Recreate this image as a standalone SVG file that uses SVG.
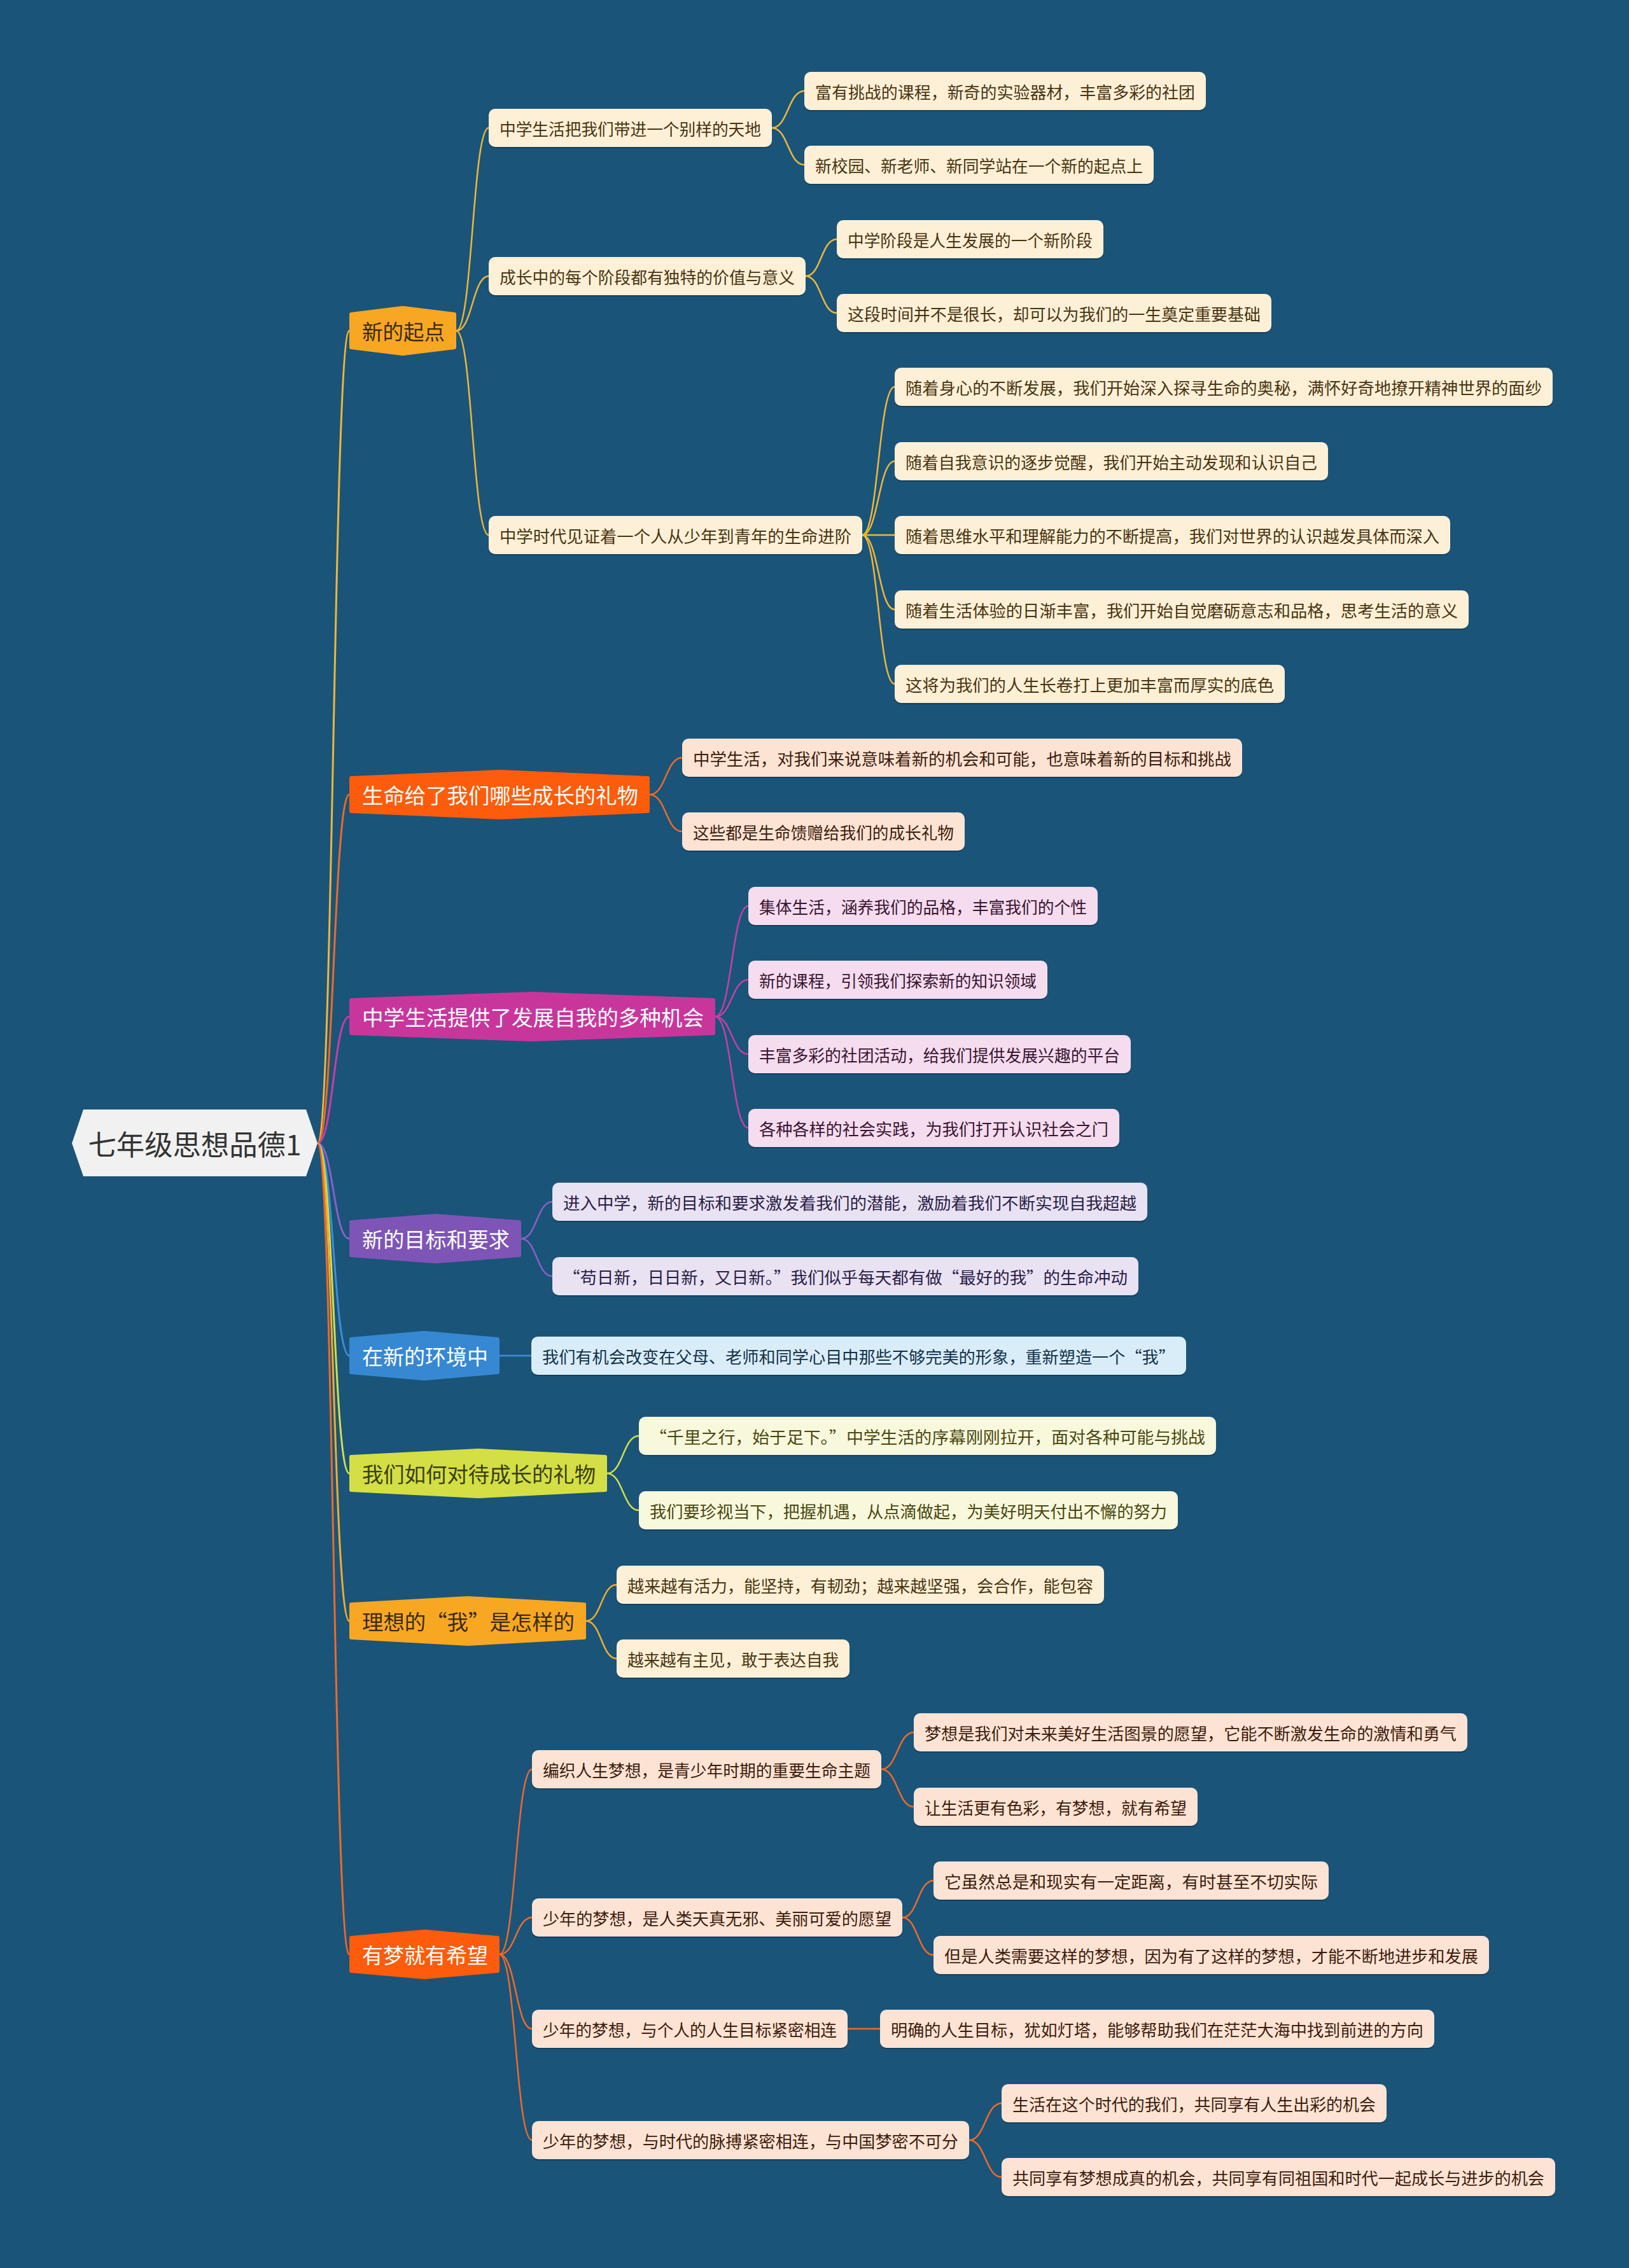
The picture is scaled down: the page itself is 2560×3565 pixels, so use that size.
<svg xmlns="http://www.w3.org/2000/svg" width="2560" height="3565" viewBox="0 0 2560 3565">
<style>
.t{font-family:"Noto Sans CJK SC","Noto Sans",sans-serif;text-anchor:middle;dominant-baseline:central}
.t0{font-size:44px;fill:#333333}
.t1{font-size:33px}
.t2{font-size:26px}
.c{fill:none;stroke-width:2.5}
.c0{fill:none;stroke-width:3}
.h{stroke-width:6;stroke-linejoin:round}
.sh{fill:#0c2f47;opacity:0.55}
.wa{fill:#ffffff}
.ca{stroke:#f0b63a}.cb{stroke:#ee6a28}.cc{stroke:#c540a3}.cd{stroke:#8a60c6}.ce{stroke:#3b8fd8}.cf{stroke:#cfdf4c}.cg{stroke:#f2ad2c}.ch{stroke:#ee6a28}
.ha{fill:#f8a722;stroke:#f8a722}.hb{fill:#fc5c0b;stroke:#fc5c0b}.hc{fill:#c8369c;stroke:#c8369c}.hd{fill:#7e55b6;stroke:#7e55b6}.he{fill:#3788d2;stroke:#3788d2}.hf{fill:#d3df45;stroke:#d3df45}.hg{fill:#f8a722;stroke:#f8a722}.hh{fill:#fc5c0b;stroke:#fc5c0b}
.na{fill:#fdf0d6}.nb{fill:#fde3d4}.nc{fill:#f5dcef}.nd{fill:#e8e2f3}.ne{fill:#d9edf9}.nf{fill:#f8f8dc}.ng{fill:#fdf0d6}.nh{fill:#fde3d4}
.xa{fill:#4a3412}.xb{fill:#3d1c0c}.xc{fill:#3a1430}.xd{fill:#2b1d45}.xe{fill:#13314a}.xf{fill:#4a4812}.xg{fill:#4a3412}.xh{fill:#3d1c0c}
.xd1{fill:#3a2a12}.xf1{fill:#3b3e0c}
</style>
<rect width="2560" height="3565" fill="#1a5479"/>

<g id="connectors">
<path class="c0 ca" d="M499,1797 C524,1797 524,520 549,520"/>
<path class="c0 cb" d="M499,1797 C524,1797 524,1249 549,1249"/>
<path class="c0 cc" d="M499,1797 C524,1797 524,1598 549,1598"/>
<path class="c0 cd" d="M499,1797 C524,1797 524,1947 549,1947"/>
<path class="c0 ce" d="M499,1797 C524,1797 524,2131 549,2131"/>
<path class="c0 cf" d="M499,1797 C524,1797 524,2316 549,2316"/>
<path class="c0 cg" d="M499,1797 C524,1797 524,2548 549,2548"/>
<path class="c0 ch" d="M499,1797 C524,1797 524,3072 549,3072"/>

<path class="c ca" d="M717,520 C742.5,520 742.5,201 768,201"/>
<path class="c ca" d="M717,520 C742.5,520 742.5,434 768,434"/>
<path class="c ca" d="M717,520 C742.5,520 742.5,841 768,841"/>
<path class="c ca" d="M1213,201 C1238.5,201 1238.5,143 1264,143"/>
<path class="c ca" d="M1213,201 C1238.5,201 1238.5,259 1264,259"/>
<path class="c ca" d="M1266,434 C1290.5,434 1290.5,376 1315,376"/>
<path class="c ca" d="M1266,434 C1290.5,434 1290.5,492 1315,492"/>
<path class="c ca" d="M1355,841 C1380.5,841 1380.5,608 1406,608"/>
<path class="c ca" d="M1355,841 C1380.5,841 1380.5,725 1406,725"/>
<path class="c ca" d="M1355,841 L1406,841"/>
<path class="c ca" d="M1355,841 C1380.5,841 1380.5,958 1406,958"/>
<path class="c ca" d="M1355,841 C1380.5,841 1380.5,1075 1406,1075"/>

<path class="c cb" d="M1021,1249 C1046.5,1249 1046.5,1191 1072,1191"/>
<path class="c cb" d="M1021,1249 C1046.5,1249 1046.5,1307 1072,1307"/>

<path class="c cc" d="M1124,1598 C1150,1598 1150,1424 1176,1424"/>
<path class="c cc" d="M1124,1598 C1150,1598 1150,1540 1176,1540"/>
<path class="c cc" d="M1124,1598 C1150,1598 1150,1657 1176,1657"/>
<path class="c cc" d="M1124,1598 C1150,1598 1150,1773 1176,1773"/>

<path class="c cd" d="M819,1947 C843.5,1947 843.5,1889 868,1889"/>
<path class="c cd" d="M819,1947 C843.5,1947 843.5,2006 868,2006"/>

<path class="c ce" d="M785,2131 L835,2131"/>

<path class="c cf" d="M954,2316 C979,2316 979,2257 1004,2257"/>
<path class="c cf" d="M954,2316 C979,2316 979,2374 1004,2374"/>

<path class="c cg" d="M921,2548 C945,2548 945,2491 969,2491"/>
<path class="c cg" d="M921,2548 C945,2548 945,2607 969,2607"/>

<path class="c ch" d="M785,3072 C810.5,3072 810.5,2781 836,2781"/>
<path class="c ch" d="M785,3072 C810.5,3072 810.5,3014 836,3014"/>
<path class="c ch" d="M785,3072 C810.5,3072 810.5,3189 836,3189"/>
<path class="c ch" d="M785,3072 C810.5,3072 810.5,3364 836,3364"/>
<path class="c ch" d="M1385,2781 C1410.5,2781 1410.5,2723 1436,2723"/>
<path class="c ch" d="M1385,2781 C1410.5,2781 1410.5,2840 1436,2840"/>
<path class="c ch" d="M1418,3014 C1442.5,3014 1442.5,2956 1467,2956"/>
<path class="c ch" d="M1418,3014 C1442.5,3014 1442.5,3073 1467,3073"/>
<path class="c ch" d="M1332,3189 L1383,3189"/>
<path class="c ch" d="M1523,3364 C1548.5,3364 1548.5,3306 1574,3306"/>
<path class="c ch" d="M1523,3364 C1548.5,3364 1548.5,3422 1574,3422"/>
</g>

<g id="root">
<polygon points="113,1797 131,1744 481,1744 499,1797 481,1849 131,1849" fill="#f1f1f1"/>
<text class="t t0" x="306" y="1797" textLength="335" lengthAdjust="spacingAndGlyphs">七年级思想品德1</text>
</g>

<g id="n-a">
<polygon class="h ha" points="552,494 633,484 714,494 714,546 633,556 552,546"/>
<text class="t t1 xd1" x="634" y="520" textLength="130" lengthAdjust="spacingAndGlyphs">新的起点</text>
</g>
<g id="n-b">
<polygon class="h hb" points="552,1223 785,1213 1018,1223 1018,1275 785,1285 552,1275"/>
<text class="t t1 wa" x="786" y="1249" textLength="434" lengthAdjust="spacingAndGlyphs">生命给了我们哪些成长的礼物</text>
</g>
<g id="n-c">
<polygon class="h hc" points="552,1572 836.5,1562 1121,1572 1121,1624 836.5,1634 552,1624"/>
<text class="t t1 wa" x="837.5" y="1598" textLength="537" lengthAdjust="spacingAndGlyphs">中学生活提供了发展自我的多种机会</text>
</g>
<g id="n-d">
<polygon class="h hd" points="552,1921 684,1911 816,1921 816,1973 684,1983 552,1973"/>
<text class="t t1 wa" x="685" y="1947" textLength="232" lengthAdjust="spacingAndGlyphs">新的目标和要求</text>
</g>
<g id="n-e">
<polygon class="h he" points="552,2105 667,2095 782,2105 782,2157 667,2167 552,2157"/>
<text class="t t1 wa" x="668" y="2131" textLength="198" lengthAdjust="spacingAndGlyphs">在新的环境中</text>
</g>
<g id="n-f">
<polygon class="h hf" points="552,2290 751.5,2280 951,2290 951,2342 751.5,2352 552,2342"/>
<text class="t t1 xf1" x="752.5" y="2316" textLength="367" lengthAdjust="spacingAndGlyphs">我们如何对待成长的礼物</text>
</g>
<g id="n-g">
<polygon class="h hg" points="552,2522 735,2512 918,2522 918,2574 735,2584 552,2574"/>
<text class="t t1 xd1" x="736" y="2548" textLength="334" lengthAdjust="spacingAndGlyphs">理想的“我”是怎样的</text>
</g>
<g id="n-h">
<polygon class="h hh" points="552,3046 667,3036 782,3046 782,3098 667,3108 552,3098"/>
<text class="t t1 wa" x="668" y="3072" textLength="198" lengthAdjust="spacingAndGlyphs">有梦就有希望</text>
</g>

<g id="n-a1"><rect class="sh" x="768" y="173" width="445" height="60" rx="10"/><rect class="na" x="768" y="171" width="445" height="60" rx="10"/><text class="t t2 xa" x="990.5" y="201" textLength="411" lengthAdjust="spacingAndGlyphs">中学生活把我们带进一个别样的天地</text></g>
<g id="n-a1a"><rect class="sh" x="1264" y="115" width="631" height="60" rx="10"/><rect class="na" x="1264" y="113" width="631" height="60" rx="10"/><text class="t t2 xa" x="1579.5" y="143" textLength="597" lengthAdjust="spacingAndGlyphs">富有挑战的课程，新奇的实验器材，丰富多彩的社团</text></g>
<g id="n-a1b"><rect class="sh" x="1264" y="231" width="549" height="60" rx="10"/><rect class="na" x="1264" y="229" width="549" height="60" rx="10"/><text class="t t2 xa" x="1538.5" y="259" textLength="515" lengthAdjust="spacingAndGlyphs">新校园、新老师、新同学站在一个新的起点上</text></g>
<g id="n-a2"><rect class="sh" x="768" y="406" width="498" height="60" rx="10"/><rect class="na" x="768" y="404" width="498" height="60" rx="10"/><text class="t t2 xa" x="1017" y="434" textLength="464" lengthAdjust="spacingAndGlyphs">成长中的每个阶段都有独特的价值与意义</text></g>
<g id="n-a2a"><rect class="sh" x="1315" y="348" width="419" height="60" rx="10"/><rect class="na" x="1315" y="346" width="419" height="60" rx="10"/><text class="t t2 xa" x="1524.5" y="376" textLength="385" lengthAdjust="spacingAndGlyphs">中学阶段是人生发展的一个新阶段</text></g>
<g id="n-a2b"><rect class="sh" x="1315" y="464" width="683" height="60" rx="10"/><rect class="na" x="1315" y="462" width="683" height="60" rx="10"/><text class="t t2 xa" x="1656.5" y="492" textLength="649" lengthAdjust="spacingAndGlyphs">这段时间并不是很长，却可以为我们的一生奠定重要基础</text></g>
<g id="n-a3"><rect class="sh" x="768" y="813" width="587" height="60" rx="10"/><rect class="na" x="768" y="811" width="587" height="60" rx="10"/><text class="t t2 xa" x="1061.5" y="841" textLength="553" lengthAdjust="spacingAndGlyphs">中学时代见证着一个人从少年到青年的生命进阶</text></g>
<g id="n-a3a"><rect class="sh" x="1406" y="580" width="1034" height="60" rx="10"/><rect class="na" x="1406" y="578" width="1034" height="60" rx="10"/><text class="t t2 xa" x="1923" y="608" textLength="1000" lengthAdjust="spacingAndGlyphs">随着身心的不断发展，我们开始深入探寻生命的奥秘，满怀好奇地撩开精神世界的面纱</text></g>
<g id="n-a3b"><rect class="sh" x="1406" y="697" width="681" height="60" rx="10"/><rect class="na" x="1406" y="695" width="681" height="60" rx="10"/><text class="t t2 xa" x="1746.5" y="725" textLength="647" lengthAdjust="spacingAndGlyphs">随着自我意识的逐步觉醒，我们开始主动发现和认识自己</text></g>
<g id="n-a3c"><rect class="sh" x="1406" y="813" width="873" height="60" rx="10"/><rect class="na" x="1406" y="811" width="873" height="60" rx="10"/><text class="t t2 xa" x="1842.5" y="841" textLength="839" lengthAdjust="spacingAndGlyphs">随着思维水平和理解能力的不断提高，我们对世界的认识越发具体而深入</text></g>
<g id="n-a3d"><rect class="sh" x="1406" y="930" width="902" height="60" rx="10"/><rect class="na" x="1406" y="928" width="902" height="60" rx="10"/><text class="t t2 xa" x="1857" y="958" textLength="868" lengthAdjust="spacingAndGlyphs">随着生活体验的日渐丰富，我们开始自觉磨砺意志和品格，思考生活的意义</text></g>
<g id="n-a3e"><rect class="sh" x="1406" y="1047" width="613" height="60" rx="10"/><rect class="na" x="1406" y="1045" width="613" height="60" rx="10"/><text class="t t2 xa" x="1712.5" y="1075" textLength="579" lengthAdjust="spacingAndGlyphs">这将为我们的人生长卷打上更加丰富而厚实的底色</text></g>

<g id="n-b1"><rect class="sh" x="1072" y="1163" width="880" height="60" rx="10"/><rect class="nb" x="1072" y="1161" width="880" height="60" rx="10"/><text class="t t2 xb" x="1512" y="1191" textLength="846" lengthAdjust="spacingAndGlyphs">中学生活，对我们来说意味着新的机会和可能，也意味着新的目标和挑战</text></g>
<g id="n-b2"><rect class="sh" x="1072" y="1279" width="444" height="60" rx="10"/><rect class="nb" x="1072" y="1277" width="444" height="60" rx="10"/><text class="t t2 xb" x="1294" y="1307" textLength="410" lengthAdjust="spacingAndGlyphs">这些都是生命馈赠给我们的成长礼物</text></g>

<g id="n-c1"><rect class="sh" x="1176" y="1396" width="549" height="60" rx="10"/><rect class="nc" x="1176" y="1394" width="549" height="60" rx="10"/><text class="t t2 xc" x="1450.5" y="1424" textLength="515" lengthAdjust="spacingAndGlyphs">集体生活，涵养我们的品格，丰富我们的个性</text></g>
<g id="n-c2"><rect class="sh" x="1176" y="1512" width="470" height="60" rx="10"/><rect class="nc" x="1176" y="1510" width="470" height="60" rx="10"/><text class="t t2 xc" x="1411" y="1540" textLength="436" lengthAdjust="spacingAndGlyphs">新的课程，引领我们探索新的知识领域</text></g>
<g id="n-c3"><rect class="sh" x="1176" y="1629" width="601" height="60" rx="10"/><rect class="nc" x="1176" y="1627" width="601" height="60" rx="10"/><text class="t t2 xc" x="1476.5" y="1657" textLength="567" lengthAdjust="spacingAndGlyphs">丰富多彩的社团活动，给我们提供发展兴趣的平台</text></g>
<g id="n-c4"><rect class="sh" x="1176" y="1745" width="583" height="60" rx="10"/><rect class="nc" x="1176" y="1743" width="583" height="60" rx="10"/><text class="t t2 xc" x="1467.5" y="1773" textLength="549" lengthAdjust="spacingAndGlyphs">各种各样的社会实践，为我们打开认识社会之门</text></g>

<g id="n-d1"><rect class="sh" x="868" y="1861" width="935" height="60" rx="10"/><rect class="nd" x="868" y="1859" width="935" height="60" rx="10"/><text class="t t2 xd" x="1335.5" y="1889" textLength="901" lengthAdjust="spacingAndGlyphs">进入中学，新的目标和要求激发着我们的潜能，激励着我们不断实现自我超越</text></g>
<g id="n-d2"><rect class="sh" x="868" y="1978" width="921" height="60" rx="10"/><rect class="nd" x="868" y="1976" width="921" height="60" rx="10"/><text class="t t2 xd" x="1328.5" y="2006" textLength="887" lengthAdjust="spacingAndGlyphs">“苟日新，日日新，又日新。”我们似乎每天都有做“最好的我”的生命冲动</text></g>

<g id="n-e1"><rect class="sh" x="835" y="2103" width="1029" height="60" rx="10"/><rect class="ne" x="835" y="2101" width="1029" height="60" rx="10"/><text class="t t2 xe" x="1349.5" y="2131" textLength="995" lengthAdjust="spacingAndGlyphs">我们有机会改变在父母、老师和同学心目中那些不够完美的形象，重新塑造一个“我”</text></g>

<g id="n-f1"><rect class="sh" x="1004" y="2229" width="907" height="60" rx="10"/><rect class="nf" x="1004" y="2227" width="907" height="60" rx="10"/><text class="t t2 xf" x="1457.5" y="2257" textLength="873" lengthAdjust="spacingAndGlyphs">“千里之行，始于足下。”中学生活的序幕刚刚拉开，面对各种可能与挑战</text></g>
<g id="n-f2"><rect class="sh" x="1004" y="2346" width="847" height="60" rx="10"/><rect class="nf" x="1004" y="2344" width="847" height="60" rx="10"/><text class="t t2 xf" x="1427.5" y="2374" textLength="813" lengthAdjust="spacingAndGlyphs">我们要珍视当下，把握机遇，从点滴做起，为美好明天付出不懈的努力</text></g>

<g id="n-g1"><rect class="sh" x="969" y="2463" width="766" height="60" rx="10"/><rect class="ng" x="969" y="2461" width="766" height="60" rx="10"/><text class="t t2 xg" x="1352" y="2491" textLength="732" lengthAdjust="spacingAndGlyphs">越来越有活力，能坚持，有韧劲；越来越坚强，会合作，能包容</text></g>
<g id="n-g2"><rect class="sh" x="969" y="2579" width="366" height="60" rx="10"/><rect class="ng" x="969" y="2577" width="366" height="60" rx="10"/><text class="t t2 xg" x="1152" y="2607" textLength="332" lengthAdjust="spacingAndGlyphs">越来越有主见，敢于表达自我</text></g>

<g id="n-h1"><rect class="sh" x="836" y="2753" width="549" height="60" rx="10"/><rect class="nh" x="836" y="2751" width="549" height="60" rx="10"/><text class="t t2 xh" x="1110.5" y="2781" textLength="515" lengthAdjust="spacingAndGlyphs">编织人生梦想，是青少年时期的重要生命主题</text></g>
<g id="n-h1a"><rect class="sh" x="1436" y="2695" width="870" height="60" rx="10"/><rect class="nh" x="1436" y="2693" width="870" height="60" rx="10"/><text class="t t2 xh" x="1871" y="2723" textLength="836" lengthAdjust="spacingAndGlyphs">梦想是我们对未来美好生活图景的愿望，它能不断激发生命的激情和勇气</text></g>
<g id="n-h1b"><rect class="sh" x="1436" y="2812" width="446" height="60" rx="10"/><rect class="nh" x="1436" y="2810" width="446" height="60" rx="10"/><text class="t t2 xh" x="1659" y="2840" textLength="412" lengthAdjust="spacingAndGlyphs">让生活更有色彩，有梦想，就有希望</text></g>
<g id="n-h2"><rect class="sh" x="836" y="2986" width="582" height="60" rx="10"/><rect class="nh" x="836" y="2984" width="582" height="60" rx="10"/><text class="t t2 xh" x="1127" y="3014" textLength="548" lengthAdjust="spacingAndGlyphs">少年的梦想，是人类天真无邪、美丽可爱的愿望</text></g>
<g id="n-h2a"><rect class="sh" x="1467" y="2928" width="621" height="60" rx="10"/><rect class="nh" x="1467" y="2926" width="621" height="60" rx="10"/><text class="t t2 xh" x="1777.5" y="2956" textLength="587" lengthAdjust="spacingAndGlyphs">它虽然总是和现实有一定距离，有时甚至不切实际</text></g>
<g id="n-h2b"><rect class="sh" x="1467" y="3045" width="873" height="60" rx="10"/><rect class="nh" x="1467" y="3043" width="873" height="60" rx="10"/><text class="t t2 xh" x="1903.5" y="3073" textLength="839" lengthAdjust="spacingAndGlyphs">但是人类需要这样的梦想，因为有了这样的梦想，才能不断地进步和发展</text></g>
<g id="n-h3"><rect class="sh" x="836" y="3161" width="496" height="60" rx="10"/><rect class="nh" x="836" y="3159" width="496" height="60" rx="10"/><text class="t t2 xh" x="1084" y="3189" textLength="462" lengthAdjust="spacingAndGlyphs">少年的梦想，与个人的人生目标紧密相连</text></g>
<g id="n-h3a"><rect class="sh" x="1383" y="3161" width="871" height="60" rx="10"/><rect class="nh" x="1383" y="3159" width="871" height="60" rx="10"/><text class="t t2 xh" x="1818.5" y="3189" textLength="837" lengthAdjust="spacingAndGlyphs">明确的人生目标，犹如灯塔，能够帮助我们在茫茫大海中找到前进的方向</text></g>
<g id="n-h4"><rect class="sh" x="836" y="3336" width="687" height="60" rx="10"/><rect class="nh" x="836" y="3334" width="687" height="60" rx="10"/><text class="t t2 xh" x="1179.5" y="3364" textLength="653" lengthAdjust="spacingAndGlyphs">少年的梦想，与时代的脉搏紧密相连，与中国梦密不可分</text></g>
<g id="n-h4a"><rect class="sh" x="1574" y="3278" width="605" height="60" rx="10"/><rect class="nh" x="1574" y="3276" width="605" height="60" rx="10"/><text class="t t2 xh" x="1876.5" y="3306" textLength="571" lengthAdjust="spacingAndGlyphs">生活在这个时代的我们，共同享有人生出彩的机会</text></g>
<g id="n-h4b"><rect class="sh" x="1574" y="3394" width="870" height="60" rx="10"/><rect class="nh" x="1574" y="3392" width="870" height="60" rx="10"/><text class="t t2 xh" x="2009" y="3422" textLength="836" lengthAdjust="spacingAndGlyphs">共同享有梦想成真的机会，共同享有同祖国和时代一起成长与进步的机会</text></g>
</svg>
